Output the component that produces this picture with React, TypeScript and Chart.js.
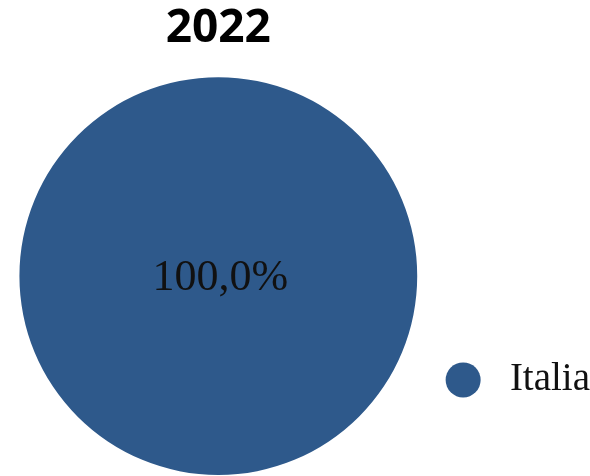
import React, { useEffect, useRef } from "react";
import { Chart, registerables } from "chart.js";

Chart.register(...registerables);

const chartTitle = "2022";
const categories = ["Italia"];
const values = [100];
const sliceColors = ["#2E598B"];

const centerLabelPlugin = {
  id: "centerLabels",
  afterDatasetsDraw(chart: any) {
    const meta = chart.getDatasetMeta(0);
    const data = chart.data.datasets[0].data as number[];
    const total = data.reduce((a, b) => a + b, 0);
    const ctx = chart.ctx;
    ctx.save();
    ctx.font = '44px "Liberation Serif", serif';
    ctx.fillStyle = "#111";
    ctx.textAlign = "center";
    ctx.textBaseline = "middle";
    meta.data.forEach((arc: any, i: number) => {
      const p = arc.getProps(["x", "y", "startAngle", "endAngle", "innerRadius", "outerRadius"], true);
      let px = p.x;
      let py = p.y;
      if (p.endAngle - p.startAngle < Math.PI * 2 - 1e-6) {
        const mid = (p.startAngle + p.endAngle) / 2;
        const r = (p.innerRadius + p.outerRadius) / 2;
        px = p.x + Math.cos(mid) * r;
        py = p.y + Math.sin(mid) * r;
      }
      const pct = (data[i] / total) * 100;
      const txt = pct.toLocaleString("it-IT", { minimumFractionDigits: 1, maximumFractionDigits: 1 }) + "%";
      ctx.fillText(txt, px + 2, py + 2);
    });
    ctx.restore();
  },
};

export default function App() {
  const ref = useRef<HTMLCanvasElement | null>(null);
  useEffect(() => {
    if (!ref.current) return;
    const chart = new Chart(ref.current, {
      type: "pie",
      data: {
        labels: categories,
        datasets: [
          {
            data: values,
            backgroundColor: sliceColors,
            borderColor: "#ffffff",
            borderWidth: 0,
          },
        ],
      },
      options: {
        responsive: true,
        maintainAspectRatio: false,
        animation: false,
        layout: { padding: { left: 0, right: -10, top: 0, bottom: 1 } },
        plugins: {
          title: {
            display: true,
            text: chartTitle,
            fullSize: false,
            color: "#000",
            font: { family: '"Open Sans", sans-serif', size: 46, weight: "bold" },
            padding: { top: 1, bottom: 21 },
          },
          legend: {
            display: true,
            position: "right",
            align: "center",
            title: {
              display: true,
              text: " ",
              font: { size: 10 },
              padding: { top: 0, bottom: 273 },
            },
            labels: {
              usePointStyle: true,
              pointStyle: "circle",
              pointStyleWidth: 35,
              boxHeight: 24.75,
              padding: 9,
              color: "#111",
              font: { family: '"Liberation Serif", serif', size: 39 },
              generateLabels: (chart: any) =>
                Chart.overrides.pie.plugins.legend.labels
                  .generateLabels(chart)
                  .map((l: any) => ({ ...l, text: " " + l.text, lineWidth: 0 })),
            },
          },
          tooltip: { enabled: false },
        },
      },
      plugins: [centerLabelPlugin],
    });
    return () => chart.destroy();
  }, []);
  return (
    <div style={{ position: "fixed", left: 0, top: 0, width: 590, height: 476, background: "#fff" }}>
      <canvas ref={ref} />
    </div>
  );
}
